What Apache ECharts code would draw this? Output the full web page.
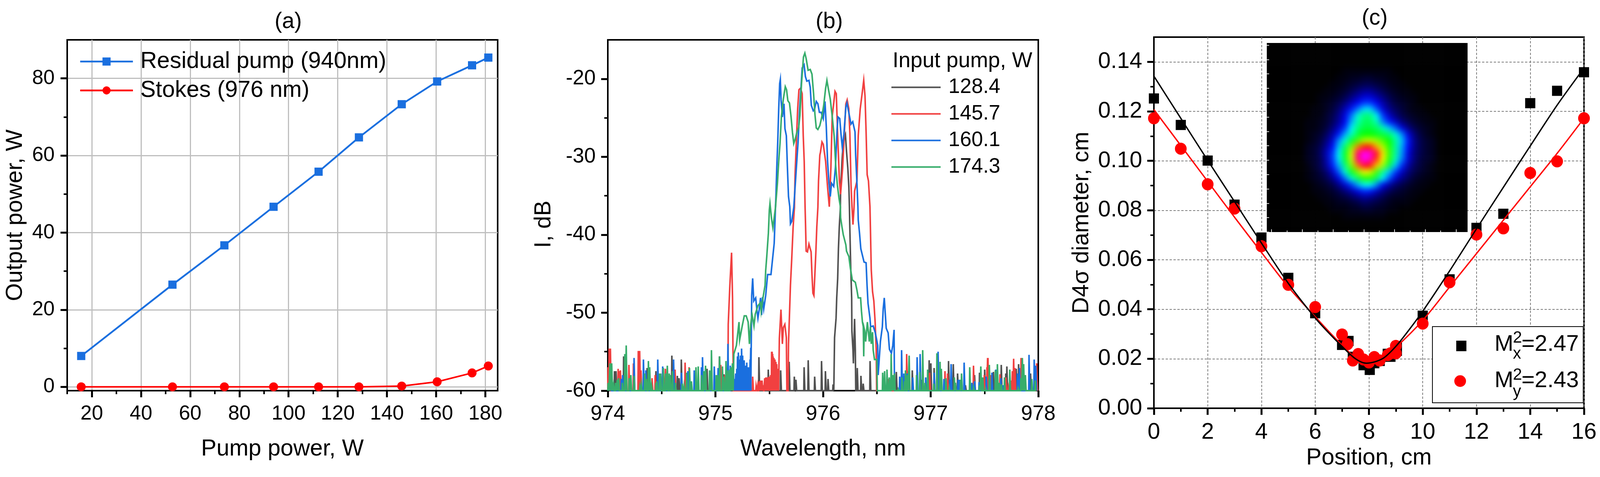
<!DOCTYPE html>
<html><head><meta charset="utf-8">
<style>html,body{margin:0;padding:0;background:#fff}#c{width:4108px;height:1221px}
#c canvas[data-zr-dom-id="zr_1"]{filter:blur(8px);clip-path:inset(110px 351px 627px 3243px)}</style>
<script src="https://cdn.jsdelivr.net/npm/echarts@6/dist/echarts.min.js"></script>
</head><body><div id="c"></div>
<script>
// ---------- panel (a)
const pumpPower=[15.7,52.8,73.9,93.9,112.2,128.6,146,160.4,174.6,181.2];
const residualPump=[8,26.5,36.7,46.7,55.8,64.7,73.3,79.2,83.4,85.4];
const stokes=[0,0,0,0,0,0,0.2,1.3,3.6,5.4];
// ---------- panel (b): main traces [nm,dB]
const main128=[[976.107,-53.2],[976.121,-50.7],[976.127,-48.1],[976.136,-45.6],[976.143,-41.8],[976.151,-39],[976.161,-36.5],[976.163,-33.9],[976.17,-32.4],[976.176,-30.6],[976.182,-29.3],[976.194,-27.8],[976.208,-27.2],[976.218,-29.3],[976.23,-31.4],[976.24,-33.9],[976.245,-36.4],[976.248,-38.6],[976.257,-44],[976.266,-48.1],[976.268,-52.3],[976.278,-54.8],[976.282,-56.5],[976.293,-50.8],[976.3,-54.8],[976.304,-60]];
const main146=[[975.116,-60],[975.119,-51.5],[975.134,-46.5],[975.15,-42.3],[975.155,-42.3],[975.159,-48.1],[975.163,-54.8],[975.168,-60],[975.594,-53.3],[975.609,-49.6],[975.622,-54],[975.631,-51.9],[975.645,-51.5],[975.659,-53.2],[975.664,-60],[975.675,-60],[975.679,-54],[975.687,-50.7],[975.697,-46.5],[975.709,-43.1],[975.722,-39],[975.734,-36.5],[975.74,-32.3],[975.752,-28.1],[975.764,-23.9],[975.776,-21.4],[975.791,-21.2],[975.806,-21.9],[975.816,-27.3],[975.825,-30.6],[975.833,-36.4],[975.837,-38.5],[975.843,-42.1],[975.855,-42.2],[975.869,-41.2],[975.889,-42.2],[975.897,-45.1],[975.906,-47.5],[975.915,-47.8],[975.924,-45.1],[975.933,-42.3],[975.942,-39],[975.952,-36.5],[975.958,-33.1],[975.97,-29.8],[975.976,-29.4],[975.99,-28.1],[976.002,-28.4],[976.024,-30.6],[976.042,-33.9],[976.058,-36.4],[976.073,-31.4],[976.085,-24.8],[976.097,-23.4],[976.111,-21.6],[976.123,-21.9],[976.136,-27.3],[976.152,-33.1],[976.163,-34.8],[976.182,-31.4],[976.2,-26.4],[976.212,-23.2],[976.224,-22.7],[976.239,-23.8],[976.249,-26.9],[976.26,-33.6],[976.269,-36.4],[976.278,-38.7],[976.288,-36.5],[976.293,-34.4],[976.3,-34.4],[976.315,-33.1],[976.327,-27.3],[976.345,-23.9],[976.363,-21.9],[976.378,-20.2],[976.39,-22.2],[976.4,-26.8],[976.41,-32.3],[976.422,-33.1],[976.436,-36.4],[976.44,-39],[976.448,-44.5],[976.46,-47.3],[976.472,-48.5],[976.484,-51.2],[976.494,-54.8],[976.498,-60]];
const main160=[[975.325,-60],[975.328,-54.5],[975.337,-47.8],[975.346,-45.6],[975.356,-48.5],[975.374,-48.1],[975.385,-49.6],[975.395,-50.7],[975.407,-49.6],[975.419,-48.1],[975.429,-50.3],[975.437,-48],[975.449,-49.5],[975.467,-47.8],[975.485,-45.1],[975.516,-45.1],[975.528,-43.5],[975.546,-41.1],[975.558,-36.5],[975.562,-35.1],[975.57,-31.4],[975.579,-28.1],[975.588,-23.9],[975.597,-20.6],[975.603,-20.1],[975.61,-22.7],[975.622,-24.9],[975.637,-23.2],[975.646,-26.4],[975.659,-27.3],[975.667,-30.6],[975.679,-35.1],[975.691,-36.4],[975.697,-38.6],[975.709,-38.3],[975.728,-36.5],[975.752,-31.4],[975.768,-28.1],[975.782,-23.9],[975.794,-21.4],[975.806,-18.6],[975.824,-18.2],[975.836,-19.7],[975.849,-20.3],[975.869,-20.2],[975.881,-21.1],[975.891,-23.4],[975.909,-24.1],[975.921,-23.9],[975.937,-22.9],[975.952,-23.2],[975.966,-24.3],[975.982,-24.3],[976.002,-25.1],[976.018,-22.9],[976.03,-26.1],[976.042,-30.6],[976.055,-33.4],[976.067,-35.1],[976.079,-33.4],[976.099,-33.8],[976.115,-31.4],[976.131,-26.4],[976.139,-24.9],[976.155,-25.1],[976.167,-27.1],[976.179,-28.8],[976.194,-27.1],[976.212,-23.6],[976.222,-23.1],[976.236,-24.1],[976.26,-25.8],[976.276,-25.5],[976.297,-26.8],[976.303,-29.8],[976.315,-33.4],[976.324,-36.4],[976.327,-38.1],[976.339,-39.8],[976.351,-41.8],[976.381,-43.5],[976.4,-43.6],[976.409,-46.5],[976.418,-48.8],[976.436,-50.7],[976.442,-51.8],[976.466,-51.7],[976.484,-52.5],[976.496,-53.3],[976.508,-54.2],[976.512,-58],[976.533,-53.7],[976.551,-51.8],[976.559,-49.5],[976.569,-48.1],[976.579,-50.3],[976.587,-52],[976.605,-52.6],[976.617,-54.7],[976.635,-55.2],[976.648,-54.2],[976.66,-52.2],[976.663,-58.2],[976.667,-60]];
const main174=[[975.168,-60],[975.171,-55.3],[975.195,-54.2],[975.219,-51.2],[975.225,-53.5],[975.249,-51.7],[975.268,-50.4],[975.286,-50.4],[975.304,-51.2],[975.316,-54],[975.328,-51.5],[975.34,-50.2],[975.358,-51.7],[975.37,-50.2],[975.395,-49.1],[975.419,-48.7],[975.425,-49.8],[975.443,-48],[975.461,-46.5],[975.467,-44.6],[975.477,-42.8],[975.492,-39.8],[975.501,-36.8],[975.507,-36],[975.522,-38],[975.534,-39.1],[975.558,-36.5],[975.576,-33.4],[975.588,-30.6],[975.6,-28.3],[975.613,-24.8],[975.631,-22.6],[975.649,-21],[975.661,-21.4],[975.673,-22.8],[975.688,-23.1],[975.703,-24.9],[975.716,-26.9],[975.728,-28.3],[975.74,-27.8],[975.758,-26.8],[975.773,-26.3],[975.785,-24.7],[975.8,-20.6],[975.818,-17.2],[975.831,-16.7],[975.843,-17.4],[975.861,-18.9],[975.881,-18.8],[975.897,-19.4],[975.912,-21.9],[975.925,-24.6],[975.937,-26.3],[975.952,-26.5],[975.97,-26],[975.988,-24.9],[976.006,-23.4],[976.024,-21.2],[976.036,-20.2],[976.051,-21.4],[976.067,-22.6],[976.085,-24.8],[976.103,-27.3],[976.119,-31.4],[976.133,-33.6],[976.148,-35.3],[976.161,-36.4],[976.163,-37.8],[976.176,-39],[976.188,-40],[976.212,-41.3],[976.218,-42.1],[976.24,-42.8],[976.254,-44.3],[976.272,-45.8],[976.3,-46.1],[976.315,-47.1],[976.327,-48.1],[976.349,-48.1],[976.357,-49.8],[976.366,-51.2],[976.374,-51.8],[976.378,-55.6],[976.382,-52],[976.387,-52.3],[976.396,-53.7],[976.412,-51.2],[976.43,-53.7],[976.44,-51.8],[976.448,-54],[976.46,-52.5],[976.466,-54.8],[976.478,-56],[976.5,-56],[976.504,-60]];
// ---------- panel (b): noise spikes [nm,dB]
const noise128=[[974.012,-58.6],[974.064,-57.5],[974.078,-57.5],[974.149,-55.6],[974.24,-58.8],[974.367,-57.1],[974.449,-57.5],[974.597,-55.5],[974.648,-58.1],[974.664,-58.4],[974.685,-56],[974.74,-58.8],[974.924,-57.2],[975.039,-55.6],[975.081,-57.9],[975.406,-55.7],[975.493,-57.3],[975.608,-57.4],[975.687,-56.3],[975.735,-58.2],[975.75,-58.6],[975.826,-57],[975.864,-56.1],[975.924,-58.2],[975.988,-56.2],[976.024,-57.5],[976.048,-58.5],[976.095,-59.2],[976.32,-57.1],[976.354,-58.1],[976.375,-59.1],[976.439,-56.2],[976.683,-57.6],[976.831,-57.4],[976.913,-58.6],[976.988,-56.1],[977.004,-56.5],[977.034,-57.1],[977.168,-56.2],[977.212,-56.6],[977.252,-57.8],[977.325,-59.3],[977.41,-58],[977.456,-57.7],[977.504,-57.3],[977.585,-57.6],[977.658,-56.7],[977.7,-57.8],[977.71,-56.9],[977.797,-57.2],[977.819,-56.6],[977.93,-57.8],[977.99,-58.5]];
const noise146=[[974.004,-57],[974.014,-54.6],[974.026,-54.6],[974.098,-57.2],[974.108,-57.5],[974.119,-57.4],[974.198,-56.7],[974.24,-56.5],[974.285,-54.9],[974.298,-54.9],[974.31,-57.4],[974.413,-58.4],[974.442,-58],[974.537,-57.2],[974.627,-57.3],[974.72,-56.4],[974.757,-57],[974.9,-59.2],[975.051,-56.7],[975.09,-58],[975.348,-58.2],[975.38,-59.4],[975.396,-59.2],[975.41,-58.8],[975.42,-58.7],[975.428,-58.8],[975.435,-58.7],[975.445,-59.3],[975.46,-58.4],[975.47,-58.3],[975.48,-58.3],[975.49,-58.3],[975.5,-58.2],[975.507,-58.7],[975.515,-58],[975.524,-55],[975.53,-55.3],[975.538,-55.6],[975.546,-55.8],[975.555,-56],[975.564,-56.3],[975.572,-56.6],[975.582,-57.2],[976.61,-58.5],[976.779,-55.3],[976.79,-57.5],[976.992,-57.7],[977.135,-57.5],[977.159,-57.8],[977.4,-56.8],[977.5,-58],[977.525,-57],[977.531,-55.8],[977.561,-58],[977.646,-57.9],[977.701,-58.3],[977.724,-59.5],[977.75,-58.7],[977.761,-57.5],[977.773,-55.9],[977.785,-57.1],[977.83,-57.5],[977.842,-55.8],[977.975,-58],[977.987,-56.5]];
const noise160=[[974.03,-58.8],[974.127,-58.5],[974.14,-58],[974.246,-55.8],[974.333,-56],[974.355,-57.4],[974.466,-56],[974.512,-56.9],[974.613,-56],[974.686,-57.7],[974.746,-57.5],[974.805,-57.4],[974.872,-57],[974.882,-55.7],[974.991,-56.9],[975.027,-57.1],[975.118,-54],[975.14,-56.8],[975.15,-57.5],[975.16,-57],[975.17,-58],[975.18,-58.5],[975.19,-57.8],[975.2,-57.2],[975.207,-55.6],[975.215,-55.1],[975.225,-56],[975.235,-55.5],[975.245,-54.6],[975.255,-55.5],[975.262,-56.8],[975.269,-56.1],[975.278,-56.8],[975.285,-57],[975.293,-56.4],[975.302,-57],[975.31,-57.2],[975.317,-57],[975.324,-56],[976.714,-58.2],[976.732,-54.8],[976.752,-57.8],[976.783,-57.8],[976.835,-58.3],[976.876,-55.7],[976.904,-55.3],[976.956,-58.3],[977.034,-57.7],[977.071,-55],[977.125,-58.5],[977.18,-58.6],[977.192,-56.6],[977.23,-59],[977.256,-58.6],[977.27,-58.6],[977.313,-56.4],[977.385,-59],[977.41,-58.8],[977.452,-58.9],[977.519,-58.2],[977.571,-57.7],[977.607,-57.3],[977.654,-58.4],[977.672,-59.3],[977.809,-57.8],[977.827,-57.1],[977.916,-55.4],[977.964,-56],[977.979,-56.8]];
const noise174=[[974.005,-59],[974.022,-56.5],[974.038,-56.5],[974.055,-59.2],[974.074,-59],[974.09,-58.6],[974.103,-58.4],[974.137,-59],[974.16,-55.3],[974.173,-54.2],[974.2,-58.4],[974.216,-58],[974.246,-58.1],[974.3,-59.5],[974.313,-59.2],[974.345,-57.8],[974.36,-58.5],[974.379,-56.2],[974.391,-57],[974.409,-59.4],[974.45,-59],[974.458,-58.8],[974.482,-57.8],[974.494,-57.8],[974.518,-57.1],[974.54,-57.8],[974.555,-56.8],[974.573,-57.8],[974.582,-58],[974.603,-57.5],[974.63,-59],[974.694,-59.1],[974.712,-59.4],[974.734,-57.7],[974.761,-57.1],[974.779,-58.8],[974.821,-57],[974.842,-56.9],[974.873,-58],[974.894,-57.5],[974.91,-56.8],[974.948,-57.4],[974.956,-57.5],[974.965,-54.8],[975.009,-58],[975.022,-58],[975.041,-55.6],[975.067,-56.9],[975.08,-58.2],[975.1,-56.2],[975.118,-57.4],[975.136,-57.3],[975.146,-57],[975.16,-56.5],[976.556,-57.7],[976.574,-57.5],[976.596,-57.3],[976.617,-58.3],[976.635,-55.3],[976.65,-58],[976.665,-57.8],[976.701,-59.8],[976.735,-58.3],[976.76,-58.8],[976.768,-57.4],[976.786,-58],[976.802,-55.5],[976.871,-58],[976.901,-57.6],[976.928,-54.8],[976.95,-59],[976.974,-57.3],[977.031,-59.1],[977.06,-55.2],[977.089,-56.3],[977.101,-57.2],[977.143,-58.4],[977.174,-59.6],[977.222,-58.3],[977.232,-59],[977.28,-58.6],[977.289,-57.8],[977.365,-57],[977.4,-59.6],[977.455,-59.3],[977.468,-56.9],[977.486,-58.3],[977.513,-59.7],[977.547,-56.7],[977.603,-57.4],[977.622,-56.6],[977.64,-59],[977.66,-59.2],[977.688,-58.3],[977.737,-57.3],[977.815,-59.7],[977.84,-58.4],[977.854,-55.8],[977.866,-56.6],[977.882,-58],[977.942,-58.5],[977.973,-58.7]];
const legendB=['128.4','145.7','160.1','174.3'];
// ---------- panel (c)
const xPosSq=[0,1,2,3,4,5,6,7,7.24,7.4,7.8,8.03,8.2,8.4,8.7,8.8,9.04,9.04,10,11,12,13,14,15,16];
const d4x=[.1252,.1145,.1001,.0823,.069,.0527,.0384,.0256,.0272,.0208,.0174,.0155,.0182,.0191,.022,.0208,.0232,.025,.0374,.0521,.0729,.0786,.1233,.1283,.1358];
const xPosCi=[0,1,2,3,4,5,6,7,7.2,7.4,7.6,7.8,8,8.2,8.4,8.7,8.8,9,9,10,11,12,13,14,15,16];
const d4y=[.1172,.1049,.0905,.0807,.0655,.0499,.0409,.0298,.0259,.0193,.0219,.0197,.0185,.0207,.0193,.0215,.0222,.0222,.0252,.0342,.0509,.0702,.0727,.0951,.0998,.1172];
const fitPosX=[0,1,2,3,4,5,6,6.5,7,7.5,7.9,8.5,9,9.5,10,11,12,13,14,15,16];
const fitX=[.1342,.1172,.1002,.0835,.0668,.0505,.0365,.0305,.025,.02,.0182,.02,.025,.0318,.0392,.0555,.0725,.0893,.106,.1225,.1375];
const fitPosY=[0,1,2,3,4,5,6,6.8,7.5,8,8.5,9,10,11,12,13,14,15,16];
const fitY=[.1207,.1062,.0917,.0772,.063,.049,.037,.0277,.0205,.0187,.0205,.0246,.0355,.049,.0625,.076,.0895,.103,.1172];
// ---------- inset beam profile: intensity 0..100, rows top to bottom
const beamRows=[
[0,0,0,0,0,0,1,1,1,1,1,1,1,1,0,0,0,0,0,0,0],
[0,0,0,0,0,1,1,2,2,3,3,2,2,1,1,0,0,0,0,0,0],
[0,0,0,0,1,1,2,3,4,5,5,4,3,2,1,1,0,0,0,0,0],
[0,0,0,1,1,2,3,5,7,9,9,7,5,3,2,1,1,0,0,0,0],
[0,0,1,1,2,3,5,8,11,14,14,11,8,5,3,2,1,1,0,0,0],
[0,0,1,2,3,5,8,12,16,20,20,16,11,7,4,3,2,1,0,0,0],
[0,1,1,2,4,7,12,18,24,31,31,22,14,9,6,4,2,1,1,0,0],
[0,1,1,3,5,9,15,24,36,42,42,33,20,13,8,5,3,2,1,1,0],
[1,1,2,3,6,10,16,28,38,44,44,38,25,18,13,8,5,3,2,1,1],
[1,1,2,4,8,13,20,33,42,46,46,44,38,30,23,15,9,5,3,2,1],
[1,2,3,6,11,18,28,37,46,50,50,48,46,43,36,26,15,8,4,2,1],
[1,2,4,8,14,26,36,47,55,62,63,60,55,50,40,30,18,9,5,3,2],
[2,3,5,10,17,30,44,58,75,82,82,72,62,52,40,28,17,9,5,3,2],
[2,3,6,12,20,33,48,64,90,100,98,86,68,54,40,27,15,8,5,3,2],
[2,3,5,11,20,32,47,63,90,100,95,80,66,52,38,25,14,8,4,3,2],
[1,3,5,10,18,28,42,58,75,86,82,70,60,45,30,19,11,6,4,2,1],
[1,2,4,7,13,22,36,48,58,66,64,54,40,30,20,13,8,5,3,2,1],
[1,2,3,5,9,15,24,36,44,52,52,44,33,22,14,9,6,3,2,1,1],
[0,1,2,3,5,9,14,20,28,34,34,26,16,11,7,5,3,2,1,1,0],
[0,1,1,2,3,5,8,11,15,19,18,13,9,6,4,3,2,1,1,0,0],
[0,0,1,1,2,3,4,6,8,10,9,7,5,3,2,2,1,1,0,0,0],
[0,0,0,1,1,2,2,3,4,6,5,4,3,2,1,1,1,0,0,0,0],
[0,0,0,0,1,1,1,2,2,3,3,2,2,1,1,0,0,0,0,0,0],
[0,0,0,0,0,0,1,1,1,1,1,1,1,0,0,0,0,0,0,0,0]];
const beamCols=36, beamRowCount=34, beamFirstCol=8, beamFirstRow=6;
const beamPalette=['#000000','#0000ff','#00ffff','#00ff00','#ffff00','#ff0000','#ff00ff'];

const FONT='"Liberation Sans",Arial,sans-serif';
const BLUE='#1a6fdf',RED='#f14040',DARK='#515151',GREEN='#37ad6b';
const range=(a,b,s)=>{const r=[];for(let v=a;v<=b+1e-9;v+=s)r.push(+v.toFixed(6));return r;};

function axes(dim,g,o){
  const common={type:'value',gridIndex:g,min:o.min,max:o.max,position:dim==='x'?'bottom':'left'};
  if(o.zlevel)common.zlevel=o.zlevel;
  const tickColor=o.tickColor||'#000', w=o.tickWidth||4;
  const main=Object.assign({},common,{
    axisLine:{show:!o.inner,onZero:false,lineStyle:{color:'#000',width:4}},
    axisTick:{show:true,inside:!!o.inner,length:o.inner?o.innerMajor:17,customValues:o.major,lineStyle:{color:tickColor,width:o.inner?w:5}},
    axisLabel:o.inner?{show:false}:{show:true,customValues:o.major,margin:o.margin,fontSize:o.fs,fontFamily:FONT,color:'#000',formatter:o.fmt},
    splitLine:o.grid?{show:true,lineStyle:o.grid}:{show:false}
  });
  if(o.name){Object.assign(main,{name:o.name,nameLocation:'middle',nameGap:o.gap,nameTextStyle:{fontSize:o.nameFs||59,fontFamily:FONT,color:'#000',padding:o.namePad||0}});}
  const minor=Object.assign({},common,{
    axisLine:{show:false,onZero:false},
    axisTick:{show:true,inside:!!o.inner,length:o.inner?o.innerMinor:9,customValues:o.minor,lineStyle:{color:tickColor,width:w}},
    axisLabel:{show:false},splitLine:{show:false}
  });
  return [main,minor];
}
const solidGrid={color:'#bfbfbf',width:3,type:'solid'};
const dashGrid={color:'#808080',width:2,type:[6,4]};

const xAxis=[
  ...axes('x',0,{min:10,max:185,major:range(20,180,20),minor:range(10,170,20),grid:solidGrid,margin:34,fs:52,name:'Pump power, W',gap:120}),
  ...axes('x',1,{min:974,max:978,major:range(974,978,1),minor:range(974.5,977.5,1),margin:34,fs:53,name:'Wavelength, nm',gap:120}),
  ...axes('x',2,{min:0,max:16,major:range(0,16,2),minor:range(1,15,2),grid:dashGrid,margin:33,fs:58,name:'Position, cm',gap:98}),
  {type:'category',gridIndex:4,data:range(0,beamCols-1,1).map(String),show:false},
  ...axes('x',3,{min:-0.31,max:12.75,major:range(0,12,2),minor:range(1,11,2),inner:true,innerMajor:7,innerMinor:4,tickColor:'#d8d8d8',tickWidth:2,zlevel:2})
];
const yAxis=[
  ...axes('y',0,{min:-1,max:90,major:range(0,80,20),minor:range(10,70,20),grid:solidGrid,margin:32,fs:52,name:'Output power, W',gap:103}),
  ...axes('y',1,{min:-60,max:-15,major:range(-60,-20,10),minor:range(-55,-25,10),margin:31,fs:53,name:'I, dB',gap:134,namePad:[0,46,0,0]}),
  ...axes('y',2,{min:0,max:0.15,major:range(0,0.14,0.02),minor:range(0.01,0.13,0.02),grid:dashGrid,margin:30,fs:58,name:'D4σ diameter, cm',gap:155,fmt:v=>v.toFixed(2)}),
  {type:'category',gridIndex:4,inverse:true,data:range(0,beamRowCount-1,1).map(String),show:false},
  ...axes('y',3,{min:0,max:13.15,major:range(0,12,2),minor:range(1,13,2),inner:true,innerMajor:6,innerMinor:6,tickColor:'#d8d8d8',tickWidth:2,zlevel:2})
];
const beamCells=[];
for(let r=0;r<beamRowCount;r++)for(let c=0;c<beamCols;c++){
  const row=beamRows[r-beamFirstRow];
  const v=row&&row[c-beamFirstCol]!==undefined?row[c-beamFirstCol]:0;
  beamCells.push([c,r,v]);
}
const withFloor=(main,noise)=>{
  const spikes=[];
  noise.forEach(([x,y])=>{spikes.push([x-0.005,-60],[x-0.002,y],[x+0.002,y],[x+0.005,-60]);});
  return [...spikes,...main].sort((a,b)=>a[0]-b[0]);
};
const zip=(a,b)=>a.map((v,i)=>[v,b[i]]);
const lineB=(name,main,noise,color)=>({name,type:'line',xAxisIndex:2,yAxisIndex:2,showSymbol:false,symbol:'none',
  data:withFloor(main,noise),lineStyle:{color,width:4,join:'miter'},itemStyle:{color},silent:true});

const series=[
  {name:'Residual pump (940nm)',type:'line',xAxisIndex:0,yAxisIndex:0,data:zip(pumpPower,residualPump),symbol:'rect',symbolSize:21,showAllSymbol:true,lineStyle:{color:BLUE,width:4.5},itemStyle:{color:BLUE}},
  {name:'Stokes (976 nm)',type:'line',xAxisIndex:0,yAxisIndex:0,data:zip(pumpPower,stokes),symbol:'circle',symbolSize:23,showAllSymbol:true,lineStyle:{color:'#ff0000',width:4},itemStyle:{color:'#ff0000'}},
  lineB(legendB[0],main128,noise128,DARK),
  lineB(legendB[1],main146,noise146,RED),
  lineB(legendB[2],main160,noise160,BLUE),
  lineB(legendB[3],main174,noise174,GREEN),
  {name:'Mx2=2.47',type:'scatter',xAxisIndex:4,yAxisIndex:4,data:zip(xPosSq,d4x),symbol:'rect',symbolSize:26,itemStyle:{color:'#000',opacity:1},z:3},
  {name:'My2=2.43',type:'scatter',xAxisIndex:4,yAxisIndex:4,data:zip(xPosCi,d4y),symbol:'circle',symbolSize:[30,31],itemStyle:{color:'#ff0000',opacity:1},z:4},
  {name:'Fit y',type:'line',xAxisIndex:4,yAxisIndex:4,data:zip(fitPosY,fitY),smooth:0.3,showSymbol:false,symbol:'none',lineStyle:{color:'#ff0000',width:3.5},itemStyle:{color:'#ff0000'},z:5},
  {name:'Fit x',type:'line',xAxisIndex:4,yAxisIndex:4,data:zip(fitPosX,fitX),smooth:0.3,showSymbol:false,symbol:'none',lineStyle:{color:'#000',width:3.5},itemStyle:{color:'#000'},z:6},
  {name:'Beam',type:'heatmap',xAxisIndex:6,yAxisIndex:6,zlevel:1,data:beamCells,progressive:0,itemStyle:{borderWidth:0},emphasis:{disabled:true}}
];
const legText=(text,x,y,fs)=>({type:'text',z:130,x,y,style:{text,fontSize:fs,fontFamily:FONT,fill:'#000',verticalAlign:'bottom'}});
const option={
  animation:false,backgroundColor:'#fff',textStyle:{fontFamily:FONT},
  grid:[
    {left:172,top:102,width:1102,height:898,show:true,borderColor:'#000',borderWidth:4,backgroundColor:'transparent'},
    {left:1556,top:102,width:1102,height:898,show:true,borderColor:'#000',borderWidth:4,backgroundColor:'transparent'},
    {left:2954,top:95,width:1101,height:950,show:true,borderColor:'#000',borderWidth:4,backgroundColor:'transparent'},
    {left:3243,top:110,width:514,height:484,show:false},
    {left:3211,top:78,width:578,height:548,show:false}
  ],
  xAxis,yAxis,series,
  visualMap:{show:false,type:'continuous',min:0,max:100,seriesIndex:10,dimension:2,inRange:{color:beamPalette}},
  title:[
    {text:'(a)',left:703,top:28,padding:0,textStyle:{fontSize:57,fontWeight:'normal',fontFamily:FONT,color:'#000'}},
    {text:'(b)',left:2088,top:28,padding:0,textStyle:{fontSize:57,fontWeight:'normal',fontFamily:FONT,color:'#000'}},
    {text:'(c)',left:3486,top:19,padding:0,textStyle:{fontSize:57,fontWeight:'normal',fontFamily:FONT,color:'#000'}},
    {text:'Input pump, W',left:2285,top:129,padding:0,textStyle:{fontSize:55,fontWeight:'normal',fontFamily:FONT,color:'#000'}}
  ],
  legend:[
    {left:203,top:128,padding:0,orient:'vertical',data:['Residual pump (940nm)','Stokes (976 nm)'],selectedMode:false,itemWidth:135,itemHeight:26,itemGap:15,lineStyle:{width:4.5},textStyle:{fontSize:59,fontFamily:FONT,color:'#000',padding:[0,0,0,14]}},
    {left:2282,top:197,padding:0,orient:'vertical',icon:'rect',data:legendB,selectedMode:false,itemWidth:126,itemHeight:4,itemGap:15,textStyle:{fontSize:53,fontFamily:FONT,color:'#000',padding:[0,0,0,15]}},
    {left:3728,top:872,padding:0,data:['Mx2=2.47'],selectedMode:false,itemWidth:26,itemHeight:27,formatter:()=>'',z:125},
    {left:3723,top:960,padding:0,data:['My2=2.43'],selectedMode:false,itemWidth:30,itemHeight:31,formatter:()=>'',z:125}
  ],
  graphic:{elements:[
    {type:'rect',z:120,shape:{x:3667,y:836,width:386,height:195},style:{fill:'#fff',stroke:'#000',lineWidth:2}},
    legText('M',3826,911,58),legText('2',3873,886,42),legText('x',3873,927,42),legText('=2.47',3895,911,58),
    legText('M',3826,1004,58),legText('2',3873,981,42),legText('y',3873,1024,42),legText('=2.43',3895,1004,58)
  ]}
};
const chart=echarts.init(document.getElementById('c'),null,{renderer:'canvas',width:4108,height:1221});
chart.setOption(option);
</script></body></html>
